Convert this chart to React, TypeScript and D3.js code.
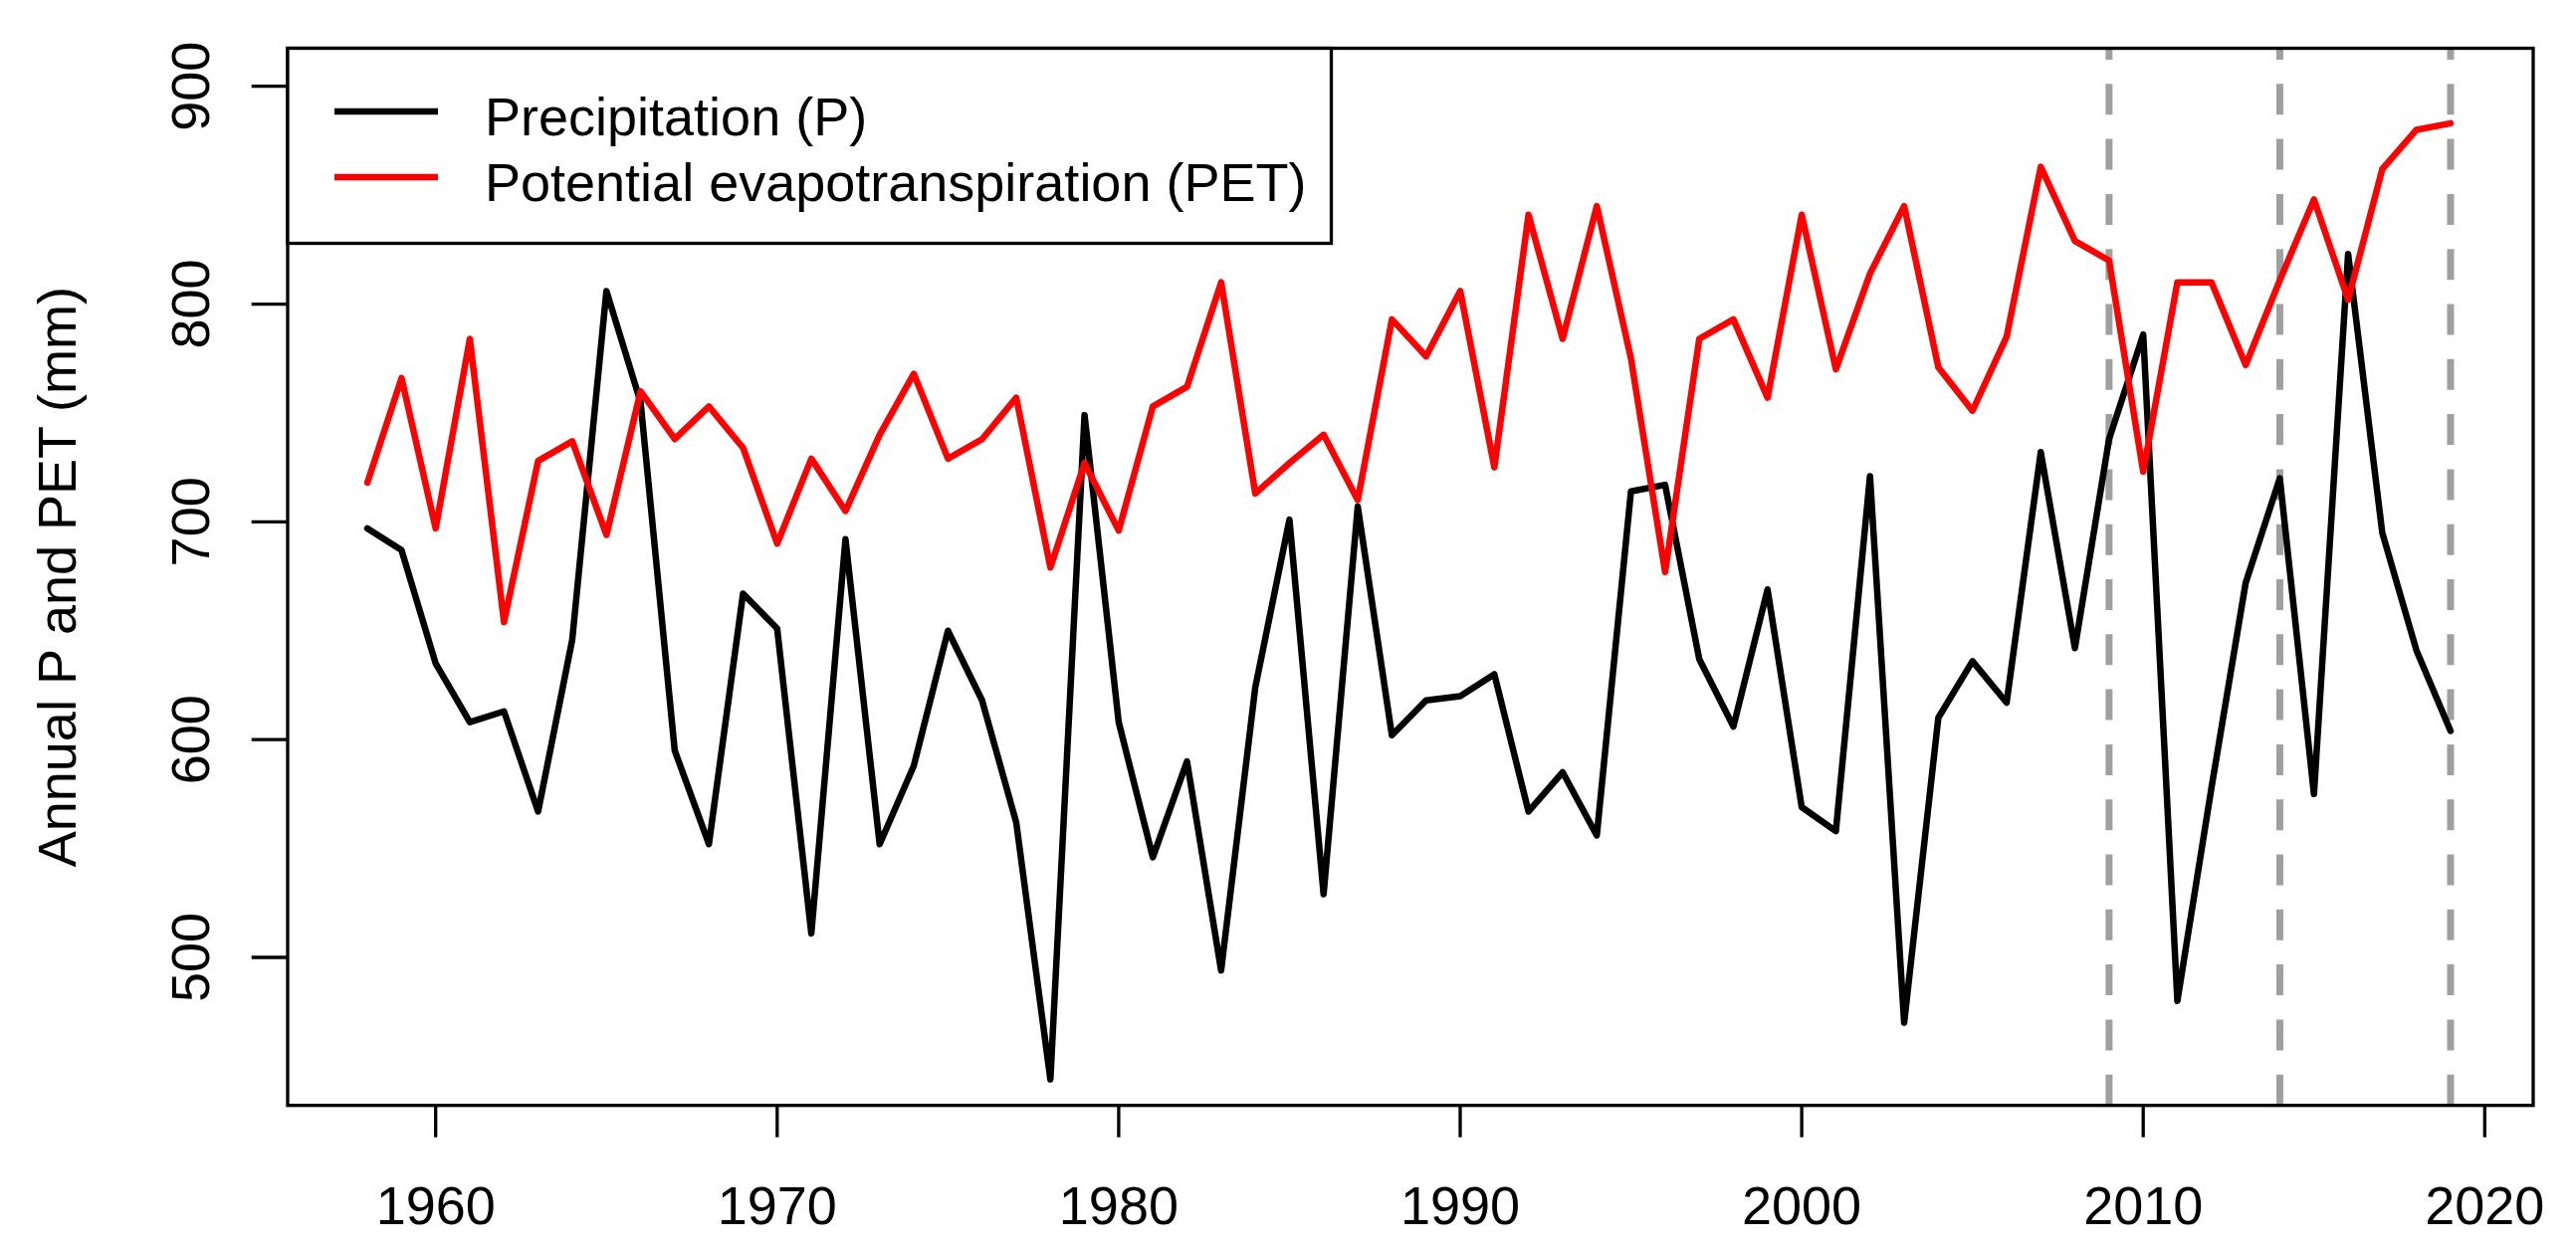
import React from 'react';
import * as d3 from 'd3';

const WIDTH = 2588;
const HEIGHT = 1257;

// Annual series, 1958-2019 (mm)
const YEARS = d3.range(1958, 2020);
const PRECIP = [
  697, 687, 635, 608, 613, 567, 646, 806, 755, 595,
  552, 667, 651, 511, 692, 552, 588, 650, 618, 562,
  444, 749, 608, 546, 590, 494, 624, 701, 529, 707,
  602, 618, 620, 630, 567, 585, 556, 714, 717, 637,
  606, 669, 569, 558, 721, 470, 610, 636, 617, 732,
  642, 738, 786, 480, 578, 672, 720, 575, 823, 695,
  641, 604,
];
const PET = [
  718, 766, 697, 784, 654, 728, 737, 694, 760, 738,
  753, 734, 690, 729, 705, 740, 768, 729, 738, 757,
  679, 727, 696, 753, 762, 810, 713, 727, 740, 710,
  793, 776, 806, 725, 841, 784, 845, 775, 677, 784,
  793, 757, 841, 770, 814, 845, 771, 751, 785, 863,
  829, 820, 723, 810, 810, 772, 811, 848, 802, 862,
  880, 883,
];
const MARK_YEARS = [2009, 2014, 2019];
const X_TICKS = [1960, 1970, 1980, 1990, 2000, 2010, 2020];
const Y_TICKS = [500, 600, 700, 800, 900];
const LEGEND = [
  { label: 'Precipitation (P)', color: '#000000' },
  { label: 'Potential evapotranspiration (PET)', color: '#ff0000' },
];

const FONT = '"Liberation Sans", Arial, sans-serif';
const FS = 54;

// plot frame
const L = 289, R = 2545, T = 48.5, B = 1110.7;

const App: React.FC = () => {
  const x = d3.scaleLinear().domain([1960, 2020]).range([437.7, 2496.3]);
  const y = d3.scaleLinear().domain([500, 900]).range([962, 86.7]);

  const line = d3.line<number>()
    .x((_, i) => x(YEARS[i]))
    .y(d => y(d));

  const legendLineY = (i: number) => 112 + i * 66;

  return (
    <div style={{ position: 'absolute', left: 0, top: 0 }}>
      <svg width={WIDTH} height={HEIGHT} style={{ display: 'block', background: '#fff' }}>
        <rect x={0} y={0} width={WIDTH} height={HEIGHT} fill="#fff" />

        <defs>
          <clipPath id="plotClip">
            <rect x={L} y={T} width={R - L} height={B - T} />
          </clipPath>
        </defs>

        {/* dashed markers, drawn bottom-up like abline */}
        {MARK_YEARS.map(yr => (
          <line key={yr} x1={x(yr)} x2={x(yr)} y1={B} y2={T}
            stroke="#a0a0a0" strokeWidth={7} strokeDasharray="31 24.3" />
        ))}

        <g clipPath="url(#plotClip)" fill="none" strokeLinejoin="round" strokeLinecap="round">
          <path d={line(PRECIP) || undefined} stroke="#000" strokeWidth={6.5} />
          <path d={line(PET) || undefined} stroke="#ff0000" strokeWidth={6.5} />
        </g>

        {/* frame */}
        <rect x={L} y={T} width={R - L} height={B - T} fill="none" stroke="#000" strokeWidth={3.3} />

        {/* x axis */}
        {X_TICKS.map(t => (
          <g key={t}>
            <line x1={x(t)} x2={x(t)} y1={B} y2={1142.7} stroke="#000" strokeWidth={3.3} />
            <text x={x(t)} y={1230} textAnchor="middle" fontFamily={FONT} fontSize={FS} fill="#000">{t}</text>
          </g>
        ))}

        {/* y axis */}
        {Y_TICKS.map(t => (
          <g key={t}>
            <line x1={252.7} x2={L} y1={y(t)} y2={y(t)} stroke="#000" strokeWidth={3.3} />
            <text transform={`translate(210,${y(t)}) rotate(-90)`} textAnchor="middle"
              fontFamily={FONT} fontSize={FS} fill="#000">{t}</text>
          </g>
        ))}

        <text transform={`translate(76,${(T + B) / 2}) rotate(-90)`} textAnchor="middle"
          fontFamily={FONT} fontSize={FS} fill="#000">Annual P and PET (mm)</text>

        {/* legend */}
        <rect x={L} y={T} width={1337.5 - L} height={244.5 - T} fill="#fff" stroke="#000" strokeWidth={3.3} />
        {LEGEND.map((d, i) => (
          <g key={d.label}>
            <line x1={336} x2={440} y1={legendLineY(i)} y2={legendLineY(i)} stroke={d.color} strokeWidth={6.5} />
            <text x={487} y={legendLineY(i) + 24} fontFamily={FONT} fontSize={FS} fill="#000">{d.label}</text>
          </g>
        ))}
      </svg>
    </div>
  );
};

export default App;
